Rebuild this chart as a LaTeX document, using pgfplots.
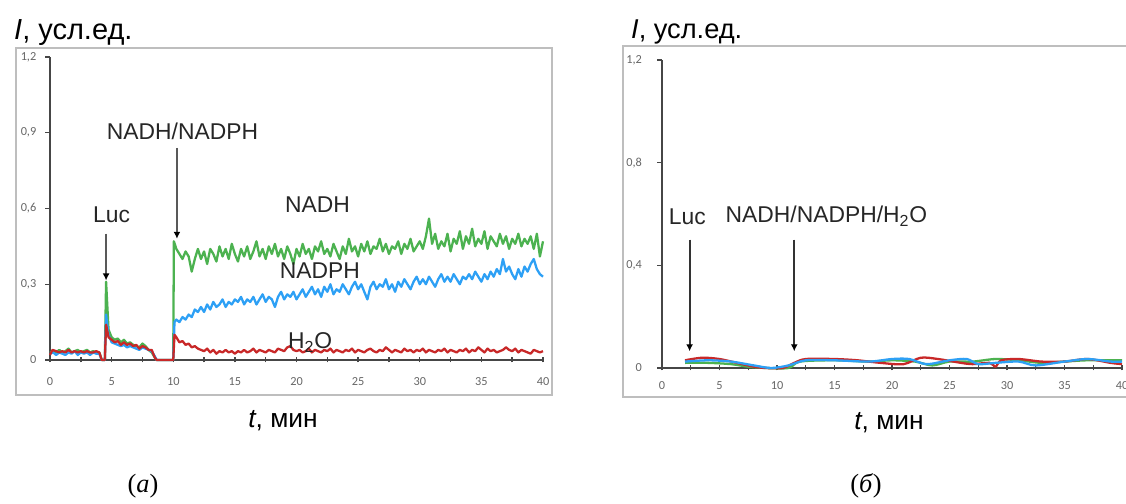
\documentclass[border=0pt]{standalone}
\usepackage{fontspec}
\setmainfont{Liberation Sans}
\newfontfamily\tnr{Liberation Serif}
\newfontfamily\carlito{Carlito}
\usepackage{pgfplots}
\pgfplotsset{compat=1.18}
\usetikzlibrary{arrows.meta}

\definecolor{cgreen}{RGB}{76,178,80}
\definecolor{cblue}{RGB}{45,160,245}
\definecolor{cred}{RGB}{200,40,40}
\definecolor{framegray}{RGB}{190,190,190}
\definecolor{axgray}{RGB}{70,70,70}

\tikzset{
  note/.style={font=\fontsize{13}{15}\selectfont, text=black!85},
  sig/.style={line width=1.3pt, line join=round},
}
\pgfplotsset{
  panel/.style={
    scale only axis,
    xmin=0, xmax=40, ymin=0, ymax=1.2,
    axis lines*=left,
    x axis line style={line width=0.9pt, draw=axgray},
    y axis line style={line width=1.4pt, draw=axgray},
    xtick={0,5,...,40}, minor xtick={2.5,7.5,...,37.5},
    xtick align=center, ytick align=outside,
    major tick length=0.1cm, minor tick length=0.1cm,
    every tick/.style={axgray, line width=0.8pt},
    tick label style={font=\fontsize{7}{8}\selectfont\carlito, text=black!60},
    /pgf/number format/assume math mode=true,
    /pgf/number format/use comma,
    clip=false,
  },
}

\begin{document}
\begin{tikzpicture}

% chart area frames
\draw[framegray, line width=1pt] (0.32,2.18) rectangle (11.04,9.12);
\draw[framegray, line width=1pt] (12.46,2.14) rectangle (23.5,9.16);

% ---------------- (a)
\begin{axis}[panel, at={(1.00cm,2.88cm)}, anchor=south west, width=9.86cm, height=6.06cm,
  ytick={0,0.3,0.6,0.9,1.2},
  yticklabel style={xshift=-0.05cm},
  xticklabel style={yshift=-0.18cm}]
\addplot[sig, cgreen] coordinates {
(0,0.03) (0.25,0.035) (0.5,0.03) (0.75,0.04) (1,0.03) (1.25,0.035) (1.5,0.045) (1.75,0.03)
(2,0.035) (2.25,0.04) (2.5,0.03) (2.75,0.035) (3,0.04) (3.25,0.03) (3.5,0.035) (3.75,0.03)
(4,0.03) (4.2,0) (4.45,0) (4.55,0.31) (4.75,0.12) (5,0.09) (5.25,0.08) (5.5,0.085) (5.75,0.07)
(6,0.08) (6.25,0.065) (6.5,0.07) (6.75,0.06) (7,0.055) (7.25,0.05) (7.5,0.065) (7.75,0.055)
(8,0.04) (8.25,0.03) (8.5,0.01) (8.65,0) (10,0) (10.05,0.47)
(10.25,0.44) (10.5,0.42) (10.75,0.40) (11,0.43) (11.25,0.41) (11.5,0.35) (11.75,0.40) (12,0.44)
(12.25,0.40) (12.5,0.43) (12.75,0.38) (13,0.44) (13.25,0.42) (13.5,0.39) (13.75,0.45) (14,0.41)
(14.25,0.44) (14.5,0.40) (14.75,0.46) (15,0.42) (15.25,0.39) (15.5,0.44) (15.75,0.41) (16,0.45)
(16.25,0.40) (16.5,0.43) (16.75,0.47) (17,0.41) (17.25,0.44) (17.5,0.40) (17.75,0.45) (18,0.42)
(18.25,0.46) (18.5,0.41) (18.75,0.44) (19,0.40) (19.25,0.45) (19.5,0.42) (19.75,0.38) (20,0.44)
(20.25,0.41) (20.5,0.46) (20.75,0.42) (21,0.44) (21.25,0.40) (21.5,0.45) (21.75,0.43) (22,0.47)
(22.25,0.42) (22.5,0.44) (22.75,0.41) (23,0.46) (23.25,0.43) (23.5,0.40) (23.75,0.45) (24,0.42)
(24.25,0.48) (24.5,0.43) (24.75,0.45) (25,0.41) (25.25,0.46) (25.5,0.43) (25.75,0.47) (26,0.42)
(26.25,0.45) (26.5,0.44) (26.75,0.48) (27,0.43) (27.25,0.46) (27.5,0.42) (27.75,0.45) (28,0.44)
(28.25,0.47) (28.5,0.42) (28.75,0.46) (29,0.44) (29.25,0.48) (29.5,0.43) (29.75,0.45) (30,0.47)
(30.25,0.44) (30.5,0.49) (30.75,0.56) (31,0.46) (31.25,0.50) (31.5,0.44) (31.75,0.47) (32,0.45)
(32.25,0.50) (32.5,0.43) (32.75,0.48) (33,0.46) (33.25,0.51) (33.5,0.44) (33.75,0.49) (34,0.46)
(34.25,0.52) (34.5,0.45) (34.75,0.48) (35,0.46) (35.25,0.51) (35.5,0.44) (35.75,0.49) (36,0.47)
(36.25,0.45) (36.5,0.50) (36.75,0.46) (37,0.49) (37.25,0.44) (37.5,0.48) (37.75,0.46) (38,0.50)
(38.25,0.45) (38.5,0.48) (38.75,0.46) (39,0.49) (39.25,0.44) (39.5,0.50) (39.75,0.41) (40,0.47)
};
\addplot[sig, cblue] coordinates {
(0,0.025) (0.25,0.03) (0.5,0.02) (0.75,0.03) (1,0.025) (1.25,0.02) (1.5,0.03) (1.75,0.025)
(2,0.035) (2.25,0.02) (2.5,0.03) (2.75,0.025) (3,0.03) (3.25,0.02) (3.5,0.03) (3.75,0.025)
(4,0.025) (4.2,0) (4.45,0) (4.55,0.18) (4.75,0.10) (5,0.07) (5.25,0.065) (5.5,0.06) (5.75,0.055)
(6,0.06) (6.25,0.05) (6.5,0.055) (6.75,0.05) (7,0.045) (7.25,0.04) (7.5,0.05) (7.75,0.045)
(8,0.04) (8.25,0.035) (8.5,0.015) (8.65,0) (10,0) (10.1,0.15)
(10.25,0.16) (10.5,0.15) (10.75,0.17) (11,0.16) (11.25,0.18) (11.5,0.17) (11.75,0.20) (12,0.19)
(12.25,0.21) (12.5,0.19) (12.75,0.22) (13,0.20) (13.25,0.23) (13.5,0.21) (13.75,0.22) (14,0.24)
(14.25,0.21) (14.5,0.23) (14.75,0.22) (15,0.24) (15.25,0.23) (15.5,0.25) (15.75,0.22) (16,0.24)
(16.25,0.23) (16.5,0.25) (16.75,0.22) (17,0.24) (17.25,0.26) (17.5,0.23) (17.75,0.25) (18,0.24)
(18.25,0.21) (18.5,0.25) (18.75,0.27) (19,0.24) (19.25,0.26) (19.5,0.25) (19.75,0.27) (20,0.24)
(20.25,0.26) (20.5,0.28) (20.75,0.25) (21,0.27) (21.25,0.29) (21.5,0.26) (21.75,0.28) (22,0.25)
(22.25,0.29) (22.5,0.27) (22.75,0.30) (23,0.26) (23.25,0.28) (23.5,0.27) (23.75,0.30) (24,0.28)
(24.25,0.26) (24.5,0.29) (24.75,0.31) (25,0.28) (25.25,0.30) (25.5,0.27) (25.75,0.24) (26,0.29)
(26.25,0.31) (26.5,0.28) (26.75,0.30) (27,0.29) (27.25,0.32) (27.5,0.28) (27.75,0.30) (28,0.27)
(28.25,0.31) (28.5,0.29) (28.75,0.32) (29,0.30) (29.25,0.28) (29.5,0.31) (29.75,0.33) (30,0.30)
(30.25,0.32) (30.5,0.30) (30.75,0.33) (31,0.31) (31.25,0.29) (31.5,0.32) (31.75,0.34) (32,0.31)
(32.25,0.33) (32.5,0.31) (32.75,0.34) (33,0.32) (33.25,0.30) (33.5,0.33) (33.75,0.32) (34,0.34)
(34.25,0.32) (34.5,0.35) (34.75,0.33) (35,0.31) (35.25,0.34) (35.5,0.32) (35.75,0.35) (36,0.33)
(36.25,0.36) (36.5,0.34) (36.75,0.40) (37,0.35) (37.25,0.37) (37.5,0.34) (37.75,0.32) (38,0.36)
(38.25,0.33) (38.5,0.37) (38.75,0.35) (39,0.38) (39.25,0.40) (39.5,0.36) (39.75,0.34) (40,0.33)
};
\addplot[sig, cred] coordinates {
(0,0.02) (0.2,0.04) (0.5,0.035) (0.75,0.03) (1,0.035) (1.25,0.03) (1.5,0.04) (1.75,0.03)
(2,0.035) (2.25,0.03) (2.5,0.035) (2.75,0.03) (3,0.035) (3.25,0.03) (3.5,0.03) (3.75,0.035)
(4,0.03) (4.2,0) (4.45,0) (4.55,0.14) (4.75,0.09) (5,0.08) (5.25,0.07) (5.5,0.075) (5.75,0.06)
(6,0.07) (6.25,0.06) (6.5,0.065) (6.75,0.055) (7,0.06) (7.25,0.045) (7.5,0.055) (7.75,0.05)
(8,0.04) (8.25,0.04) (8.5,0.01) (8.65,0) (10,0) (10.1,0.10)
(10.25,0.09) (10.5,0.07) (10.75,0.075) (11,0.06) (11.25,0.065) (11.5,0.05) (11.75,0.055) (12,0.045)
(12.25,0.04) (12.5,0.035) (12.75,0.045) (13,0.03) (13.25,0.04) (13.5,0.025) (13.75,0.035) (14,0.03)
(14.25,0.04) (14.5,0.03) (14.75,0.035) (15,0.025) (15.25,0.035) (15.5,0.03) (15.75,0.04) (16,0.03)
(16.25,0.035) (16.5,0.045) (16.75,0.03) (17,0.04) (17.25,0.035) (17.5,0.03) (17.75,0.04) (18,0.035)
(18.25,0.03) (18.5,0.045) (18.75,0.04) (19,0.035) (19.25,0.05) (19.5,0.055) (19.75,0.04) (20,0.035)
(20.25,0.04) (20.5,0.03) (20.75,0.035) (21,0.045) (21.25,0.03) (21.5,0.04) (21.75,0.035) (22,0.03)
(22.25,0.04) (22.5,0.035) (22.75,0.045) (23,0.03) (23.25,0.04) (23.5,0.035) (23.75,0.03) (24,0.04)
(24.25,0.035) (24.5,0.045) (24.75,0.03) (25,0.04) (25.25,0.035) (25.5,0.03) (25.75,0.04) (26,0.045)
(26.25,0.035) (26.5,0.03) (26.75,0.04) (27,0.035) (27.25,0.05) (27.5,0.04) (27.75,0.03) (28,0.04)
(28.25,0.035) (28.5,0.03) (28.75,0.045) (29,0.035) (29.25,0.04) (29.5,0.03) (29.75,0.04) (30,0.035)
(30.25,0.045) (30.5,0.03) (30.75,0.04) (31,0.035) (31.25,0.03) (31.5,0.04) (31.75,0.035) (32,0.045)
(32.25,0.03) (32.5,0.04) (32.75,0.035) (33,0.03) (33.25,0.04) (33.5,0.035) (33.75,0.045) (34,0.03)
(34.25,0.04) (34.5,0.035) (34.75,0.05) (35,0.04) (35.25,0.03) (35.5,0.045) (35.75,0.035) (36,0.04)
(36.25,0.03) (36.5,0.035) (36.75,0.04) (37,0.05) (37.25,0.04) (37.5,0.035) (37.75,0.045) (38,0.03)
(38.25,0.04) (38.5,0.035) (38.75,0.03) (39,0.025) (39.25,0.04) (39.5,0.035) (39.75,0.03) (40,0.035)
};
\draw[black!65, line width=1.1pt, -{Latex[length=4pt,width=4pt,black]}] (axis cs:4.55,0.50) -- (axis cs:4.55,0.315);
\draw[black!65, line width=1.1pt, -{Latex[length=4pt,width=4pt,black]}] (axis cs:10.3,0.84) -- (axis cs:10.3,0.48);
\node[note] at (axis cs:5.0,0.575) {Luc};
\node[note] at (axis cs:10.75,0.905) {NADH/NADPH};
\node[note] at (axis cs:21.7,0.615) {NADH};
\node[note] at (axis cs:21.9,0.355) {NADPH};
\node[note] at (axis cs:21.1,0.068) {H\textsubscript{2}O};
\end{axis}

% ---------------- (б)
\begin{axis}[panel, at={(13.24cm,2.72cm)}, anchor=south west, width=9.2cm, height=6.16cm,
  ytick={0,0.4,0.8,1.2},
  yticklabel style={xshift=-0.18cm},
  xticklabel style={yshift=-0.1cm}]
\addplot[sig, cgreen, smooth] coordinates {
(2,0.02) (4,0.02) (6,0.015) (7.5,0.005) (9,0) (11,0) (12,0.025) (15,0.03) (18,0.025)
(20,0.03) (22,0.025) (23.5,0.01) (25,0.025) (27,0.025) (29,0.035) (31,0.03) (33,0.02)
(35,0.025) (37,0.03) (40,0.03)
};
\addplot[sig, cred, smooth] coordinates {
(2,0.03) (3.5,0.04) (5,0.035) (6.5,0.02) (8,0.005) (9,0) (10.5,0) (11.5,0.02) (12.5,0.035)
(15,0.035) (17,0.03) (19,0.02) (21,0.015) (22.5,0.04) (24,0.035) (26,0.02) (27,0.015)
(28.5,0.02) (29,0.005) (29.5,0.03) (31,0.035) (33,0.025) (35,0.025) (37,0.035) (39,0.02) (40,0.015)
};
\addplot[sig, cblue, smooth] coordinates {
(2,0.025) (4,0.03) (6,0.025) (8,0.01) (9.5,0) (11,0.01) (12.5,0.03) (15,0.03) (18,0.025)
(20,0.035) (21.5,0.035) (23,0.015) (25,0.03) (26.5,0.035) (27.5,0.015) (29,0.02) (31,0.025)
(32.5,0.01) (35,0.025) (37,0.035) (39,0.025) (40,0.025)
};
\draw[black!80, line width=1.2pt, -{Latex[length=4pt,width=4pt,black]}] (axis cs:2.4,0.50) -- (axis cs:2.4,0.065);
\draw[black!80, line width=1.2pt, -{Latex[length=4pt,width=4pt,black]}] (axis cs:11.5,0.50) -- (axis cs:11.5,0.065);
\node[note] at (axis cs:2.2,0.59) {Luc};
\node[note] at (axis cs:14.3,0.59) {NADH/NADPH/H\textsubscript{2}O};
\end{axis}

% axis captions and panel letters
\node[anchor=west, font=\fontsize{16.5}{18}\selectfont] at (0.16,9.42) {\textit{I}, усл.ед.};
\node[anchor=west, font=\fontsize{15.5}{17}\selectfont] at (12.5,9.44) {\textit{I}, усл.ед.};
\node[font=\fontsize{15}{17}\selectfont] at (5.66,1.66) {\textit{t}, мин};
\node[font=\fontsize{15}{17}\selectfont] at (17.78,1.62) {\textit{t}, мин};
\node[font=\fontsize{15}{17}\selectfont\tnr] at (2.86,0.36) {(\textit{а})};
\node[font=\fontsize{15}{17}\selectfont\tnr] at (17.32,0.36) {(\textit{б})};

\pgfresetboundingbox
\useasboundingbox (0,0) rectangle (22.52,10.08);
\end{tikzpicture}
\end{document}
